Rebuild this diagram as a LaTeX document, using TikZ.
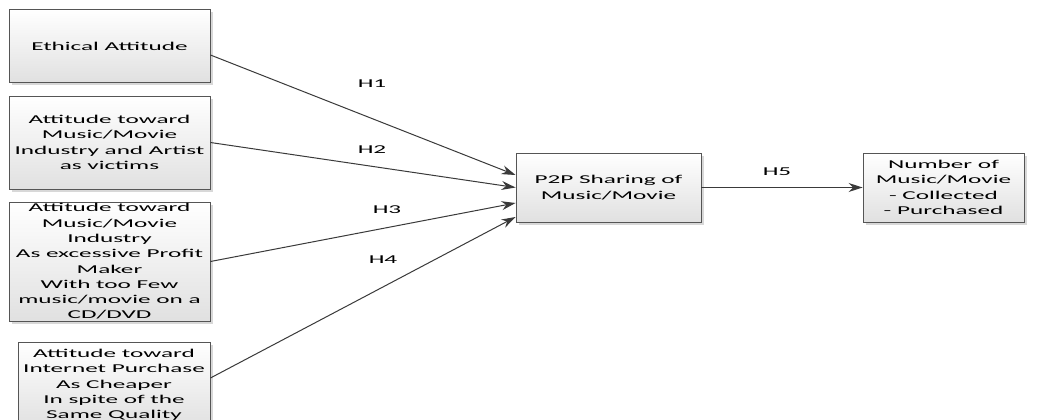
\documentclass[tikz,border=0pt]{standalone}
\usepackage{fontspec}
\newfontfamily\boxfont[FakeStretch=2.1]{Carlito}
\usetikzlibrary{arrows.meta,shadows,calc}
\definecolor{edgegray}{HTML}{555555}
\definecolor{arrowgray}{HTML}{3A3A3A}
\tikzset{
  boxnode/.style={draw=edgegray, line width=0.9pt, top color=white, bottom color=black!12,
    shading angle=0, rectangle, inner sep=0pt, align=center,
    font=\boxfont\fontsize{12pt}{15.3pt}\selectfont,
    drop shadow={shadow xshift=2.5pt, shadow yshift=-2.5pt, fill=black!30, opacity=0.5}},
  link/.style={draw=arrowgray, line width=1pt, -{Stealth[length=14pt,width=9pt]}},
  hlabel/.style={font=\boxfont\fontsize{12pt}{15pt}\selectfont, inner sep=0pt}
}
\begin{document}
\begin{tikzpicture}[x=1pt,y=-1pt]
\useasboundingbox (0,0) rectangle (1039,420);
\fill[white] (0,0) rectangle (1039,420);
\clip (0,0) rectangle (1039,420);
\node[boxnode, minimum width=201pt, minimum height=73pt] (b1) at (109.5,46) {Ethical Attitude};
\node[boxnode, minimum width=201pt, minimum height=93pt] (b2) at (109.5,142.5) {Attitude toward\\Music/Movie\\Industry and Artist\\as victims};
\node[boxnode, minimum width=201pt, minimum height=119pt] (b3) at (109.5,261.5) {Attitude toward\\Music/Movie\\Industry\\As excessive Profit\\Maker\\With too Few\\music/movie on a\\CD/DVD};
\node[boxnode, minimum width=192pt, minimum height=86pt] (b4) at (114,385) {Attitude toward\\Internet Purchase\\As Cheaper\\In spite of the\\Same Quality};
\node[boxnode, minimum width=185pt, minimum height=69pt] (p) at (608.5,187.5) {P2P Sharing of\\Music/Movie};
\node[boxnode, minimum width=161pt, minimum height=69pt] (n) at (943.5,187.5) {Number of\\Music/Movie\\- Collected\\- Purchased};
\draw[link] ([yshift=-9pt]b1.east) -- ([yshift=12.5pt]p.west);
\draw[link] (b2.east) -- (p.west);
\draw[link] (b3.east) -- ([yshift=-15.5pt]p.west);
\draw[link] ([yshift=7pt]b4.east) -- ([yshift=-29.5pt]p.west);
\draw[link] (p.east) -- (n.west);
\node[hlabel] (h1) at (372,84) {H1};
\node[hlabel] (h2) at (372,150) {H2};
\node[hlabel] (h3) at (387,210) {H3};
\node[hlabel] (h4) at (383,260) {H4};
\node[hlabel] (h5) at (777,172) {H5};
\end{tikzpicture}
\end{document}
